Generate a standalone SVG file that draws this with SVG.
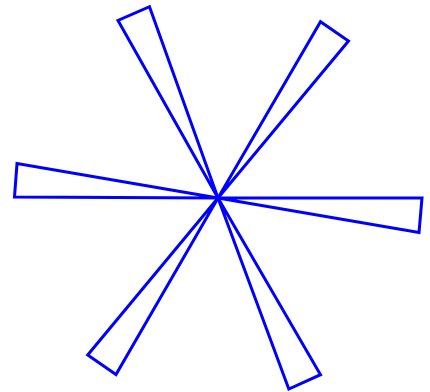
<svg xmlns="http://www.w3.org/2000/svg" width="430" height="392" viewBox="0 0 430 392">
<style>
.w{fill:none;stroke:#0000ff;stroke-width:3;stroke-linejoin:miter}
</style>
<rect width="430" height="392" fill="#ffffff"/>
<g id="star">
<polygon id="w0" class="w" points="218,198 422,198 419,232.4"/>
<polygon id="w1" class="w" points="218,198 320.5,374.7 288.8,389"/>
<polygon id="w2" class="w" points="218,198 116,374.5 87.7,355"/>
<polygon id="w3" class="w" points="218,198 14.5,197 17,163.6"/>
<polygon id="w4" class="w" points="218,198 118,20.5 149.5,6.7"/>
<polygon id="w5" class="w" points="218,198 320.5,21.7 348.5,41"/>
</g>
</svg>
